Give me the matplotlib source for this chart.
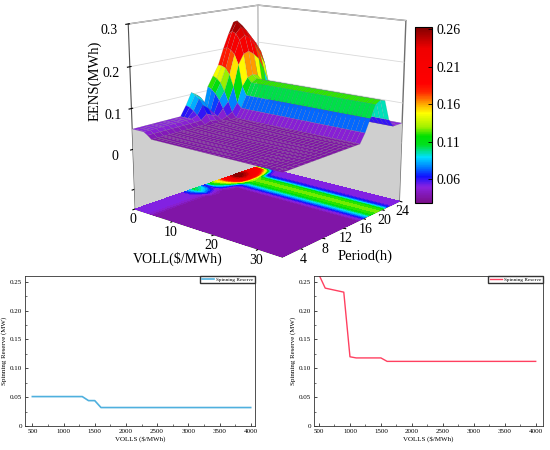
import numpy as np
import matplotlib
matplotlib.use('Agg')
import matplotlib.pyplot as plt
from matplotlib.colors import LinearSegmentedColormap, Normalize
from matplotlib.ticker import MultipleLocator, FuncFormatter
from mpl_toolkits.mplot3d.art3d import Poly3DCollection

plt.rcParams['font.family'] = ['Liberation Serif', 'DejaVu Serif']
plt.rcParams['mathtext.fontset'] = 'stix'

# ---------------- 3D surface data: EENS (MWh) ----------------
# columns: VOLL step index 0..35, rows: period (h) 1..24
voll_index = list(range(36))
periods = list(range(1, 25))

row_front = [0.050, 0.050, 0.050, 0.050, 0.044] + [0.036] * 31
row_p10 = [0.075, 0.072, 0.065, 0.056, 0.045] + [0.036] * 31
row_p11 = [0.105, 0.100, 0.092, 0.078, 0.058, 0.042] + [0.036] * 30
row_p12 = [0.095, 0.090, 0.080, 0.066, 0.050, 0.040] + [0.036] * 30
row_p14 = [0.110, 0.105, 0.095, 0.080, 0.060, 0.042] + [0.036] * 30
row_p15 = [0.135, 0.130, 0.120, 0.100, 0.075, 0.050] + [0.036] * 30
row_p16 = [0.160, 0.160, 0.155, 0.140, 0.110, 0.070] + [0.058] * 30
row_p17 = [0.200, 0.205, 0.200, 0.190, 0.165, 0.110] + [0.088] * 30
row_p18 = [0.235, 0.245, 0.240, 0.225, 0.190, 0.130] + [0.118] * 30
row_p19 = [0.265, 0.270, 0.255, 0.235, 0.195, 0.135] + [0.125] * 30
row_p20 = [0.250, 0.255, 0.245, 0.225, 0.185, 0.130] + [0.120] * 30
row_p21 = [0.230, 0.235, 0.225, 0.205, 0.170, 0.100] + [0.070] * 30
row_p22 = [0.215, 0.215, 0.205, 0.180, 0.140, 0.070] + [0.050] * 30
row_p23 = [0.200, 0.195, 0.180, 0.150, 0.100, 0.055] + [0.050] * 30
row_back = [0.050] * 36

eens_rows = ([row_front] * 9 + [row_p10, row_p11, row_p12, row_front,
             row_p14, row_p15, row_p16, row_p17, row_p18, row_p19,
             row_p20, row_p21, row_p22, row_p23, row_back])

# colour scale
cbar_min, cbar_max = 0.028, 0.263
cbar_ticks = [0.06, 0.11, 0.16, 0.21, 0.26]

# ---------------- 2D line data: spinning reserve ----------------
volls_blue = [500, 1300, 1400, 1500, 1600, 4000]
reserve_blue = [0.051, 0.051, 0.044, 0.044, 0.032, 0.032]
volls_red = [500, 600, 900, 1000, 1100, 1500, 1600, 4000]
reserve_red = [0.262, 0.239, 0.232, 0.120, 0.118, 0.118, 0.112, 0.112]

# ---------------- figure ----------------
fig = plt.figure(figsize=(5.5, 4.5), dpi=100)

cmap = LinearSegmentedColormap.from_list('origin_rainbow', [
    (0.00, '#7a0e88'),
    (0.09, '#8a22e0'),
    (0.15, '#1010ff'),
    (0.20, '#0078ff'),
    (0.26, '#00e0ff'),
    (0.33, '#00e020'),
    (0.38, '#00e000'),
    (0.43, '#a0f000'),
    (0.51, '#ffff00'),
    (0.57, '#ff9a00'),
    (0.63, '#ff2800'),
    (0.68, '#ff0000'),
    (0.88, '#f00000'),
    (1.00, '#800000'),
])
norm = Normalize(vmin=cbar_min, vmax=cbar_max)

X, Y = np.meshgrid(np.array(voll_index), np.array(periods))
Z = np.array(eens_rows)

zlo, zhi = -0.15, 0.30
ax = fig.add_axes([0.172, 0.424, 0.62, 0.62], projection='3d', computed_zorder=False)
ax.set_proj_type('persp', focal_length=0.6)
ax.view_init(elev=14, azim=-50)
ax.set_box_aspect((1, 1, 0.98), zoom=1.15)
ax.set_xlim(0, 35)
ax.set_ylim(1, 24)
ax.set_zlim(zlo, zhi)

for axis in (ax.xaxis, ax.yaxis, ax.zaxis):
    axis.set_pane_color((1, 1, 1, 1))
    axis.pane.set_edgecolor('#707070')
    axis.line.set_color('#505050')
    axis.line.set_linewidth(0.8)
for axis in (ax.xaxis, ax.yaxis):
    axis._axinfo['grid']['color'] = (1, 1, 1, 0)
ax.zaxis._axinfo['grid']['color'] = (0.85, 0.85, 0.85, 1)
ax.zaxis._axinfo['grid']['linewidth'] = 0.6
ax.zaxis.set_ticks_position('lower')
ax.zaxis.set_label_position('lower')

# gray curtains on back walls below the surface rim
rim = row_back[0]
wall_x = Poly3DCollection([[(0, 1, zlo), (0, 24, zlo), (0, 24, rim), (0, 1, rim)]],
                          facecolor='#cfcfcf', edgecolor='none', zorder=1)
wall_y = Poly3DCollection([[(0, 24, zlo), (35, 24, zlo), (35, 24, rim), (0, 24, rim)]],
                          facecolor='#cfcfcf', edgecolor='none', zorder=1)
ax.add_collection3d(wall_x)
ax.add_collection3d(wall_y)

ax.contourf(X, Y, Z, zdir='z', offset=zlo, levels=np.linspace(cbar_min, cbar_max, 48),
            cmap=cmap, norm=norm, zorder=2)
surf = ax.plot_surface(X, Y, Z, cmap=cmap, norm=norm, rstride=1, cstride=1,
                       linewidth=0.25, edgecolor=(0.45, 0.45, 0.45, 0.35),
                       antialiased=True, shade=False, zorder=3)

ax.set_xticks([0, 10, 20, 30])
ax.set_yticks([4, 8, 12, 16, 20, 24])
ax.set_zticks([-0.1, 0, 0.1, 0.2, 0.3])
ax.set_zticklabels(['', '0', '0.1', '0.2', '0.3'])
ax.tick_params(axis='x', labelsize=10, pad=-6)
ax.tick_params(axis='y', labelsize=10, pad=-6)
ax.tick_params(axis='z', labelsize=10, pad=-1)
ax.set_xlabel('')
ax.set_ylabel('')
ax.set_zlabel('')

# axis titles of the 3D panel
fig.text(133 / 550, 1 - 259 / 450, 'VOLL(\\$/MWh)', fontsize=10, ha='left', va='center')
fig.text(338 / 550, 1 - 256 / 450, 'Period(h)', fontsize=10.5, ha='left', va='center')
fig.text(95 / 550, 1 - 81 / 450, 'EENS(MWh)', fontsize=10.5, ha='center', va='center',
         rotation=90)

# colorbar
cax = fig.add_axes([415 / 550, 1 - 203 / 450, 17 / 550, 176 / 450])
sm = plt.cm.ScalarMappable(norm=norm, cmap=cmap)
cb = fig.colorbar(sm, cax=cax, ticks=cbar_ticks)
cb.ax.set_yticklabels(['%.2f' % t for t in cbar_ticks])
cb.ax.tick_params(labelsize=10, direction='in', length=3, width=0.6)
cb.outline.set_linewidth(0.8)

# ---------------- 2D plots ----------------
def style2d(a, xlim):
    a.set_xlim(*xlim)
    a.set_ylim(0, 0.26)
    a.xaxis.set_major_locator(MultipleLocator(500))
    a.xaxis.set_minor_locator(MultipleLocator(250))
    a.yaxis.set_major_locator(MultipleLocator(0.05))
    a.yaxis.set_minor_locator(MultipleLocator(0.025))
    a.yaxis.set_major_formatter(FuncFormatter(lambda v, p: '0' if abs(v) < 1e-9 else '%.2f' % v))
    a.tick_params(which='both', direction='in', labelsize=5, top=False, right=False, pad=2)
    a.tick_params(which='major', length=2.5, width=0.5)
    a.tick_params(which='minor', length=1.5, width=0.4)
    for s in a.spines.values():
        s.set_linewidth(0.6)
        s.set_color('#333333')
    a.set_xlabel('VOLLS (\\$/MWh)', fontsize=5, labelpad=2)
    a.set_ylabel('Spinning Reserve (MW)', fontsize=5, labelpad=2)
    a.legend(loc='upper right', fontsize=3.8, frameon=True, fancybox=False, edgecolor='#333333',
             borderaxespad=0, borderpad=0.25, handlelength=2.4, handletextpad=0.4, framealpha=1)

axl = fig.add_axes([25 / 550, 1 - 426 / 450, 230 / 550, 150 / 450])
axl.plot(volls_blue, reserve_blue, color='#4fb0de', lw=1.2, label='Spinning Reserve')
style2d(axl, (382, 4069))

axr = fig.add_axes([314 / 550, 1 - 426 / 450, 229 / 550, 150 / 450])
axr.plot(volls_red, reserve_red, color='#ff4060', lw=1.0, label='Spinning Reserve')
style2d(axr, (419, 4118))

fig.savefig('out.png', dpi=100)
